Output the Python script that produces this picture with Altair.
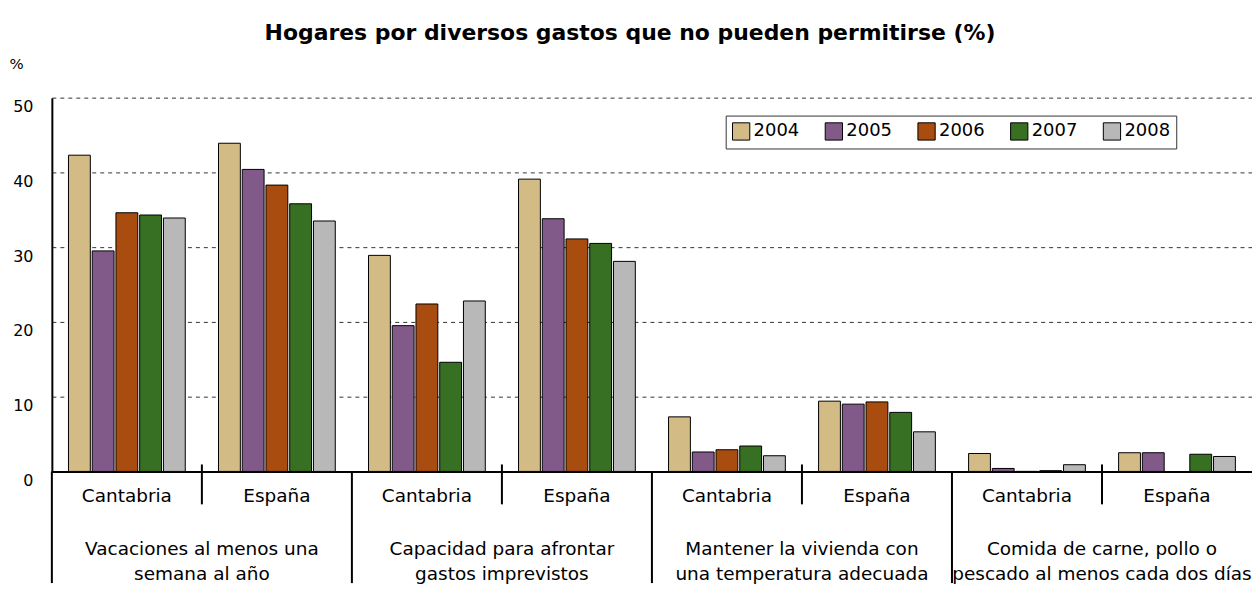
import altair as alt
import pandas as pd

years = ["2004", "2005", "2006", "2007", "2008"]
categories = ["Vacaciones", "Capacidad", "Mantener", "Comida"]
category_labels = [
    "Vacaciones al menos una\nsemana al año",
    "Capacidad para afrontar\ngastos imprevistos",
    "Mantener la vivienda con\nuna temperatura adecuada",
    "Comida de carne, pollo o\npescado al menos cada dos días",
]
regions = ["Cantabria", "España"]

# order of groups: (category, region)
v2004 = [42.3, 43.9, 28.9, 39.1, 7.3, 9.4, 2.4, 2.5]
v2005 = [29.5, 40.4, 19.5, 33.8, 2.6, 9.0, 0.4, 2.5]
v2006 = [34.6, 38.3, 22.4, 31.1, 2.9, 9.3, 0.0, None]
v2007 = [34.3, 35.8, 14.6, 30.5, 3.4, 7.9, 0.1, 2.3]
v2008 = [33.9, 33.5, 22.8, 28.1, 2.1, 5.3, 0.9, 2.0]
series = [v2004, v2005, v2006, v2007, v2008]

colors = ["#D2BB85", "#825A8A", "#A84C10", "#387023", "#B8B8B9"]
y_ticks = [0, 10, 20, 30, 40, 50]

FONT = "DejaVu Sans"

groups = [f"{c}|{r}" for c in categories for r in regions]

rows = []
for yi, yr in enumerate(years):
    for gi, g in enumerate(groups):
        v = series[yi][gi]
        if v is not None:
            rows.append({"grp": g, "year": yr, "value": v})
bars_df = pd.DataFrame(rows)

region_df = pd.DataFrame({"grp": groups, "label": [g.split("|")[1] for g in groups]})
cat_df = pd.DataFrame({"grp": [f"{c}|España" for c in categories], "label": category_labels})
cat_sep_df = pd.DataFrame({"grp": [f"{c}|Cantabria" for c in categories]})
reg_sep_df = pd.DataFrame({"grp": [f"{c}|España" for c in categories]})

x_scale = alt.Scale(domain=groups, paddingInner=0, paddingOuter=0)
x_axis = alt.Axis(labels=False, ticks=False, title=None, grid=False,
                  domainColor="black", domainWidth=2)

bars = alt.Chart(bars_df).mark_bar(stroke="black", strokeWidth=1).encode(
    x=alt.X("grp:N", scale=x_scale, axis=x_axis),
    xOffset=alt.XOffset("year:N", scale=alt.Scale(domain=years, paddingInner=0.08, paddingOuter=0.7)),
    y=alt.Y("value:Q", scale=alt.Scale(domain=[0, 50], nice=False),
            axis=alt.Axis(values=y_ticks, title="%", titleAngle=0, titleX=-36, titleY=-29,
                          titleAlign="center", titleBaseline="alphabetic", titleFont=FONT,
                          titleFontSize=15, titleFontWeight="normal", titleColor="black",
                          ticks=False, labelPadding=19, labelBaseline="alphabetic",
                          labelOffset=14, labelFontSize=16, labelFont=FONT, labelColor="black",
                          domainColor="black", domainWidth=2,
                          grid=True, gridDash=[4, 4], gridColor="#333", gridWidth=1)),
    color=alt.Color("year:N", scale=alt.Scale(domain=years, range=colors),
                    legend=alt.Legend(title=None, orient="none", legendX=676, legendY=18,
                                      direction="horizontal", columns=5, columnPadding=23,
                                      symbolType="square", symbolSize=300,
                                      symbolStrokeColor="black", symbolStrokeWidth=1,
                                      labelFontSize=18, labelFont=FONT, labelColor="black",
                                      labelOffset=3, strokeColor="#333", fillColor="white",
                                      padding=6)),
)

region_text = alt.Chart(region_df).mark_text(
    font=FONT, fontSize=18.5, baseline="alphabetic", align="center", color="black"
).encode(
    x=alt.X("grp:N", scale=x_scale, axis=x_axis),
    y=alt.value(406),
    text="label:N",
)

cat_text = alt.Chart(cat_df).mark_text(
    font=FONT, fontSize=18.5, baseline="alphabetic", align="center", color="black",
    lineBreak="\n", lineHeight=25
).encode(
    x=alt.X("grp:N", scale=x_scale, axis=x_axis, bandPosition=0),
    y=alt.value(459),
    text="label:N",
)

cat_sep = alt.Chart(cat_sep_df).mark_rule(color="black", strokeWidth=2).encode(
    x=alt.X("grp:N", scale=x_scale, axis=x_axis, bandPosition=0),
    y=alt.value(375),
    y2=alt.value(487),
)

reg_sep = alt.Chart(reg_sep_df).mark_rule(color="black", strokeWidth=2).encode(
    x=alt.X("grp:N", scale=x_scale, axis=x_axis, bandPosition=0),
    y=alt.value(368),
    y2=alt.value(408),
)

chart = alt.layer(bars, cat_sep, reg_sep, region_text, cat_text).properties(
    width=1204,
    height=375,
    autosize=alt.AutoSizeParams(type="none"),
    padding={"left": 44, "top": 89, "right": 0, "bottom": 112},
    title=alt.TitleParams("Hogares por diversos gastos que no pueden permitirse (%)",
                          font=FONT, fontSize=22, fontWeight="bold", color="black",
                          anchor="middle", baseline="alphabetic", offset=18, dx=-22, dy=23),
).configure_view(stroke=None)

chart.save("out.html", embed_options={"renderer": "svg", "actions": False})
